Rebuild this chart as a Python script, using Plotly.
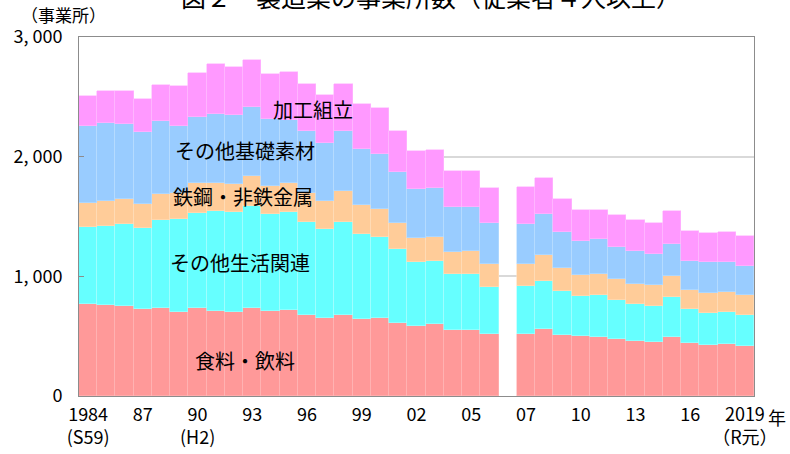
import plotly.graph_objects as go

# 年（2007年の前に一つ空き）
years = list(range(1984, 2007)) + list(range(2007, 2020))

food = [770, 764, 753, 728, 737, 706, 734, 714, 703, 739, 709, 717, 681, 650, 675, 644, 653, 611, 586, 600, 552, 552, 519,
        522, 558, 511, 499, 494, 477, 463, 452, 494, 441, 427, 435, 418]
living = [642, 653, 684, 678, 731, 770, 795, 834, 832, 849, 812, 818, 775, 748, 781, 709, 678, 614, 536, 524, 464, 464, 396,
          399, 407, 368, 338, 349, 324, 304, 301, 335, 284, 268, 265, 260]
metal = [203, 212, 206, 198, 217, 223, 251, 235, 234, 248, 234, 242, 244, 231, 257, 243, 229, 217, 198, 207, 189, 195, 190,
         184, 210, 187, 173, 173, 173, 173, 176, 170, 162, 162, 165, 170]
basic = [645, 656, 634, 600, 611, 561, 555, 572, 580, 583, 561, 530, 518, 489, 502, 469, 463, 427, 407, 407, 371, 365, 343,
         332, 343, 301, 287, 293, 273, 268, 257, 271, 243, 259, 254, 240]
assembly = [251, 260, 273, 276, 304, 332, 363, 421, 402, 390, 374, 399, 388, 396, 396, 373, 382, 349, 318, 315, 302, 302, 290,
            307, 307, 276, 260, 242, 262, 260, 256, 273, 251, 246, 251, 248]

tick_years = [1984, 1987, 1990, 1993, 1996, 1999, 2002, 2005, 2007, 2010, 2013, 2016, 2019]
tick_text = ['1984<br>(S59)', '87', '90<br>(H2)', '93', '96', '99', '02', '05', '07', '10', '13', '16', '2019<br>（R元）']

names = ['食料・飲料', 'その他生活関連', '鉄鋼・非鉄金属', 'その他基礎素材', '加工組立']
colors = ['#FF9999', '#66FFFF', '#FFCC99', '#99CCFF', '#FF99FF']
edges = ['#FFB8B8', '#A8FFFF', '#FFDDBB', '#BBDDFF', '#FFBBFF']


def slot(y):
    # 2006と2007の間に空白を一つ入れる
    return y - 1984 + (1 if y >= 2007 else 0)


xs = [slot(y) for y in years]
font = 'Noto Sans CJK JP'

fig = go.Figure()
for name, vals, c, e in zip(names, [food, living, metal, basic, assembly], colors, edges):
    fig.add_trace(go.Bar(x=xs, y=vals, name=name, marker=dict(color=c, line=dict(color=e, width=0.6)),
                         width=1.0))

labels = [('加工組立', 12.35, 2395), ('その他基礎素材', 8.6, 2055), ('鉄鋼・非鉄金属', 8.5, 1670),
          ('その他生活関連', 8.35, 1115), ('食料・飲料', 8.6, 295)]
for txt, lx, ly in labels:
    fig.add_annotation(x=lx, y=ly, text=txt, showarrow=False, font=dict(size=20, color='black', family=font))

fig.add_annotation(xref='paper', yref='paper', x=-0.0237, y=1.064, text='（事業所）', showarrow=False,
                   xanchor='center', yanchor='middle', font=dict(size=17, color='black', family=font))
fig.add_annotation(xref='paper', yref='paper', x=1.034, y=-0.058, text='年', showarrow=False,
                   xanchor='center', yanchor='middle', font=dict(size=18, color='black', family=font))
fig.add_annotation(xref='paper', yref='paper', x=0.522, y=1.114, text='図２　製造業の事業所数（従業者４人以上）',
                   xanchor='center', yanchor='middle', showarrow=False,
                   font=dict(size=25, color='black', family=font))

fig.update_layout(
    width=790, height=454,
    margin=dict(l=79, r=36, t=37, b=58, autoexpand=False),
    barmode='stack', bargap=0,
    showlegend=False,
    plot_bgcolor='white', paper_bgcolor='white',
    font=dict(family=font, size=18, color='black'),
)
fig.update_xaxes(range=[-0.5, 36.5], tickvals=[slot(y) for y in tick_years], ticktext=tick_text,
                 showgrid=False, showline=True, mirror=True, linecolor='#8c8c8c', linewidth=1,
                 ticks='', ticklabelstandoff=2, zeroline=False, automargin=False)
fig.update_yaxes(range=[0, 3000], tickvals=[0, 1000, 2000, 3000], ticktext=['0', '1, 000', '2, 000', '3, 000'],
                 showgrid=True, gridcolor='#d9d9d9', gridwidth=1.5,
                 showline=True, mirror=True, linecolor='#8c8c8c', linewidth=1,
                 ticks='inside', ticklen=5, tickcolor='#8c8c8c', ticklabelstandoff=12, zeroline=False,
                 automargin=False)

# ページ既定の余白(8px)を消す
fig.write_html('out.html', config={'displayModeBar': False},
               post_script="document.body.style.margin='0';")
